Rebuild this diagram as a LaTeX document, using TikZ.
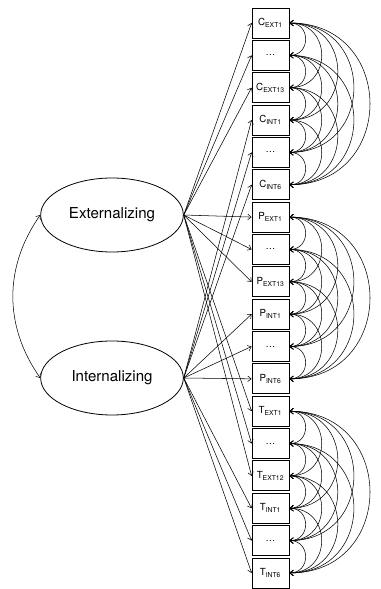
\documentclass[tikz,border=0pt]{standalone}
\usepackage{fontspec}
\setmainfont{TeX Gyre Heros}
\usetikzlibrary{shapes.geometric,arrows.meta}

\begin{document}
\begin{tikzpicture}[x=0.75pt,y=0.75pt,>={Straight Barb[length=2.6pt,width=4.2pt]},
  item/.style={draw,line width=0.6pt,minimum width=27.75pt,minimum height=22.5pt,inner sep=0pt,font=\fontsize{7.3}{8}\selectfont},
  factor/.style={draw,ellipse,line width=0.6pt,minimum width=107pt,minimum height=55.5pt,inner sep=0pt,font=\fontsize{11.3}{13}\selectfont},
  load/.style={->,line width=0.4pt},
  cov/.style={<->,line width=0.4pt}]
\useasboundingbox (0,0) rectangle (381,589);
% observed indicators
\foreach \i/\txt in {1/C\textsubscript{EXT1},2/\dots,3/C\textsubscript{EXT13},4/C\textsubscript{INT1},5/\dots,6/C\textsubscript{INT6},
  7/P\textsubscript{EXT1},8/\dots,9/P\textsubscript{EXT13},10/P\textsubscript{INT1},11/\dots,12/P\textsubscript{INT6},
  13/T\textsubscript{EXT1},14/\dots,15/T\textsubscript{EXT12},16/T\textsubscript{INT1},17/\dots,18/T\textsubscript{INT6}}
  \node[item] (b\i) at (270.5,{566-32.35*(\i-1)}) {\txt};
% latent factors
\node[factor] (ext) at (112,374) {Externalizing};
\node[factor] (int) at (112,211) {Internalizing};
\draw[cov] (ext.west) to[out=235,in=125] (int.west);
% loadings
\foreach \g in {0,6,12} \foreach \k in {1,2,3} {\pgfmathtruncatemacro\n{\g+\k} \draw[load] (ext.east) -- (b\n.west);}
\foreach \g in {0,6,12} \foreach \k in {4,5,6} {\pgfmathtruncatemacro\n{\g+\k} \draw[load] (int.east) -- (b\n.west);}
% residual covariances within each informant
\foreach \g in {0,6,12} \foreach \i in {1,...,5} {\pgfmathtruncatemacro\ii{\i+1}
  \foreach \j in {\ii,...,6} {\pgfmathtruncatemacro\na{\g+\i}\pgfmathtruncatemacro\nb{\g+\j}
    \draw[cov] (b\na.east) to[out=0,in=0,looseness=1.7] (b\nb.east);}}
\end{tikzpicture}
\end{document}
